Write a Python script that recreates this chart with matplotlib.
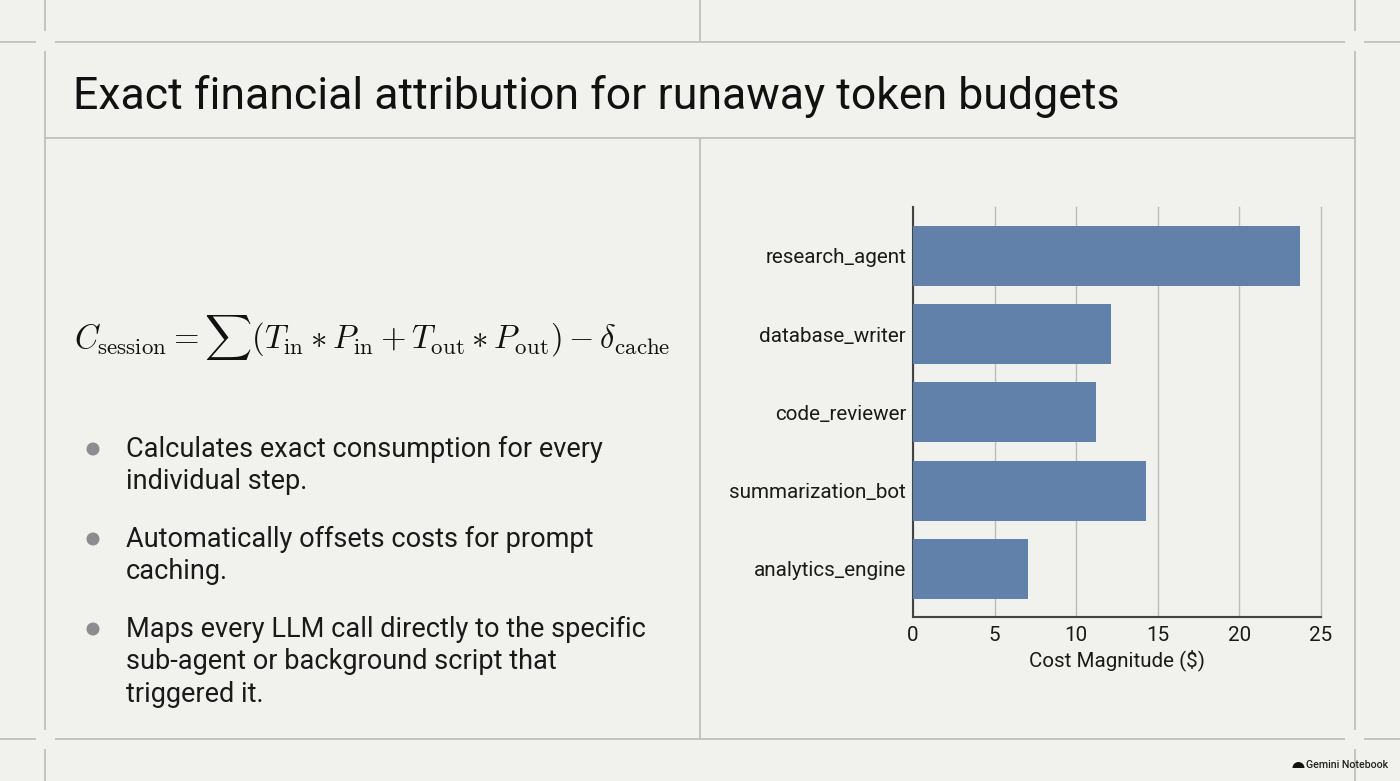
import matplotlib
matplotlib.use('Agg')
import matplotlib.pyplot as plt
from matplotlib.lines import Line2D
from matplotlib.patches import Circle, Wedge

W, H = 1400, 781

agents = ['research_agent', 'database_writer', 'code_reviewer', 'summarization_bot', 'analytics_engine']
costs = [23.7, 12.15, 11.2, 14.3, 7.05]
x_ticks = [0, 5, 10, 15, 20, 25]

title = 'Exact financial attribution for runaway token budgets'
formula = (r'$C_{\mathrm{session}} = \sum(T_{\mathrm{in}} * P_{\mathrm{in}} + T_{\mathrm{out}} * P_{\mathrm{out}})'
           r' - \delta_{\mathrm{cache}}$')
bullets = [
    ['Calculates exact consumption for every', 'individual step.'],
    ['Automatically offsets costs for prompt', 'caching.'],
    ['Maps every LLM call directly to the specific', 'sub-agent or background script that', 'triggered it.'],
]

BG = '#f1f1ed'
RULE = '#bcbdb8'
BAR = '#6181ab'
INK = '#1a1a1a'

plt.rcParams['font.family'] = ['Roboto', 'DejaVu Sans']
plt.rcParams['mathtext.fontset'] = 'cm'

fig = plt.figure(figsize=(W / 100, H / 100), dpi=100, facecolor=BG)

# whole-slide overlay in pixel coordinates, y pointing down
bg = fig.add_axes([0, 0, 1, 1])
bg.set_xlim(0, W)
bg.set_ylim(H, 0)
bg.axis('off')


def rule(x0, y0, x1, y1):
    bg.add_line(Line2D([x0, x1], [y0, y1], color=RULE, lw=1.2, solid_capstyle='butt'))


# slide frame, with gaps at the corner crossings
rule(0, 41.5, 36, 41.5)
rule(55, 41.5, 1345, 41.5)
rule(1364, 41.5, 1400, 41.5)
rule(0, 739, 36, 739)
rule(55, 739, 1345, 739)
rule(1364, 739, 1400, 739)
rule(44.5, 0, 44.5, 31)
rule(44.5, 51, 44.5, 730)
rule(44.5, 749, 44.5, 781)
rule(1354.5, 0, 1354.5, 31)
rule(1354.5, 51, 1354.5, 730)
rule(1354.5, 749, 1354.5, 781)
rule(44.5, 137.5, 1354.5, 137.5)
rule(699.5, 0, 699.5, 41)
rule(699.5, 137.5, 699.5, 739)

bg.text(73, 97, title, fontsize=32.15, color='#111111', va='center', ha='left')
bg.text(74, 338, formula, fontsize=23.6, color='#111111', va='center', ha='left')

# bullet list
line_step = 32.5
for lines, y0 in zip(bullets, [449, 539, 629]):
    bg.add_patch(Circle((93, y0), 6.5, color='#8b8d90', lw=0))
    for i, line in enumerate(lines):
        bg.text(126, y0 + i * line_step, line, fontsize=19.5, color=INK, va='center', ha='left')

# watermark
bg.add_patch(Wedge((1298.5, 768), 6, 180, 360, color='#111111', lw=0))
bg.text(1306, 765, 'Gemini Notebook', fontsize=7.7, color='#222222', va='center', ha='left', fontweight='medium')

# bar chart
ax = fig.add_axes([913 / W, 1 - 617 / H, (1321 - 913) / W, (617 - 207) / H], facecolor='none')
ax.barh(range(len(agents)), costs, height=0.767, color=BAR, zorder=3)
ax.set_yticks(range(len(agents)))
ax.set_yticklabels(agents, fontsize=14.9, color=INK)
ax.set_ylim(4.614, -0.626)
ax.set_xlim(0, 25)
ax.set_xticks(x_ticks)
ax.set_xticklabels([str(t) for t in x_ticks], fontsize=14.9, color=INK)
ax.set_xlabel('Cost Magnitude (\\$)', fontsize=14.8, color=INK, labelpad=3)
ax.grid(axis='x', color=RULE, lw=1.0, zorder=0)
for line in ax.get_xgridlines():
    line.set_clip_on(False)
ax.tick_params(axis='y', length=0, pad=5)
ax.tick_params(axis='x', length=0, pad=6.5)
for side in ['top', 'right']:
    ax.spines[side].set_visible(False)
for side in ['left', 'bottom']:
    ax.spines[side].set_color('#444444')
    ax.spines[side].set_linewidth(1.5)

fig.savefig('out.png', dpi=100, facecolor=BG)
